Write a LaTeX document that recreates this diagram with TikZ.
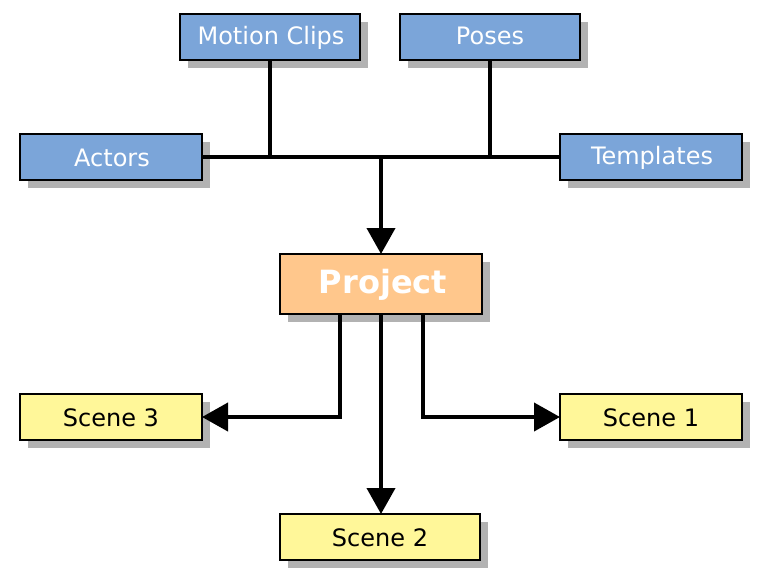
\documentclass[tikz,border=0pt]{standalone}
\usepackage{fontspec}
\setmainfont{DejaVu Sans}
\usetikzlibrary{arrows.meta,shadows}
\definecolor{boxblue}{HTML}{7BA5D9}
\definecolor{boxorange}{HTML}{FFC78C}
\definecolor{boxyellow}{HTML}{FFF799}
\definecolor{shadowgrey}{HTML}{B2B2B2}
\tikzset{
  basebox/.style={draw=black,line width=2pt,inner sep=0pt,outer sep=0pt,anchor=center,
    general shadow={shadow xshift=8pt,shadow yshift=-8pt,fill=shadowgrey}},
  source/.style={basebox,fill=boxblue,text=white,font=\fontsize{24}{24}\selectfont},
  scenebox/.style={basebox,fill=boxyellow,text=black,font=\fontsize{24}{24}\selectfont,minimum height=46pt},
  projectbox/.style={basebox,fill=boxorange,text=white,font=\fontsize{32}{32}\selectfont\bfseries,minimum width=202pt,minimum height=60pt},
  link/.style={line width=4pt,draw=black,line cap=butt},
  arrowlink/.style={link,-{Triangle[length=26pt,width=28pt]}}
}
\begin{document}
\begin{tikzpicture}[x=1pt,y=-1pt]
\useasboundingbox (0,0) rectangle (773,581);
\node[source,minimum width=180pt,minimum height=46pt] (clips) at (270,37) {};
\node[source,minimum width=180pt,minimum height=46pt] (poses) at (490,37) {};
\node[source,minimum width=182pt,minimum height=46pt] (actors) at (111,157) {};
\node[source,minimum width=182pt,minimum height=46pt] (templates) at (651,157) {};
\node[projectbox] (project) at (381,284) {};
\node[scenebox,minimum width=182pt] (scene3) at (111,417) {};
\node[scenebox,minimum width=182pt] (scene1) at (651,417) {};
\node[scenebox,minimum width=200pt] (scene2) at (380,537) {};
% labels
\node[font=\fontsize{24}{24}\selectfont,text=white,inner sep=0pt] (lclips) at (271,38) {Motion Clips};
\node[font=\fontsize{24}{24}\selectfont,text=white,inner sep=0pt] (lposes) at (490,36) {Poses};
\node[font=\fontsize{24}{24}\selectfont,text=white,inner sep=0pt] (lactors) at (112,158) {Actors};
\node[font=\fontsize{24}{24}\selectfont,text=white,inner sep=0pt] (ltemplates) at (652,158) {Templates};
\node[font=\fontsize{32}{32}\selectfont\bfseries,text=white,inner sep=0pt] (lproject) at (383,285) {Project};
\node[font=\fontsize{24}{24}\selectfont,inner sep=0pt] (lscene3) at (111,418) {Scene 3};
\node[font=\fontsize{24}{24}\selectfont,inner sep=0pt] (lscene1) at (651,418) {Scene 1};
\node[font=\fontsize{24}{24}\selectfont,inner sep=0pt] (lscene2) at (380,538) {Scene 2};
% connectors
\draw[link] (actors.east) -- (templates.west);
\coordinate (hub) at (381,157);
\draw[link] (clips.south) -- (clips.south |- actors.east);
\draw[link] (poses.south) -- (poses.south |- actors.east);
\draw[arrowlink] (hub) -- (project.north);
\draw[arrowlink] (project.south) -- (project.south |- scene2.north);
\draw[arrowlink] ([xshift=-41pt]project.south) |- (scene3.east);
\draw[arrowlink] ([xshift=42pt]project.south) |- (scene1.west);
\end{tikzpicture}
\end{document}
